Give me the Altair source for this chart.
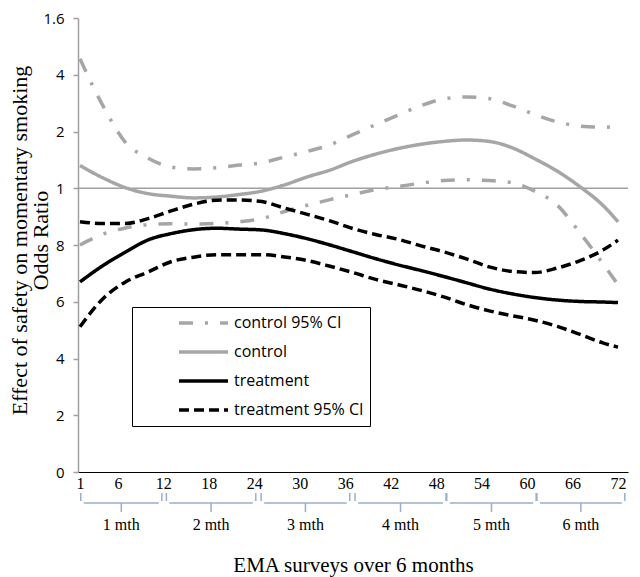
import json
import altair as alt
import pandas as pd

# ---- data ----
survey = [1, 4, 7, 10, 13, 16, 19, 22, 25, 28, 31, 34, 37, 40, 43, 46, 49, 52, 55, 58, 61, 64, 67, 70, 72]

control_ci_upper = [1.456, 1.292, 1.162, 1.106, 1.075, 1.068, 1.072, 1.082, 1.090, 1.110, 1.130, 1.153,
                    1.189, 1.224, 1.258, 1.291, 1.315, 1.322, 1.316, 1.291, 1.260, 1.234, 1.219, 1.215, 1.217]
control = [1.080, 1.037, 1.002, 0.981, 0.972, 0.966, 0.969, 0.978, 0.990, 1.012, 1.040, 1.064,
           1.095, 1.120, 1.140, 1.155, 1.165, 1.170, 1.165, 1.143, 1.104, 1.060, 1.005, 0.940, 0.882]
control_ci_lower = [0.800, 0.838, 0.860, 0.872, 0.875, 0.874, 0.876, 0.882, 0.893, 0.918, 0.940, 0.960,
                    0.978, 0.995, 1.006, 1.018, 1.027, 1.030, 1.027, 1.020, 0.990, 0.940, 0.842, 0.735, 0.660]
treatment_ci_upper = [0.882, 0.876, 0.876, 0.893, 0.920, 0.944, 0.958, 0.959, 0.953, 0.930, 0.908, 0.885,
                      0.858, 0.837, 0.820, 0.797, 0.776, 0.751, 0.723, 0.707, 0.703, 0.719, 0.745, 0.782, 0.817]
treatment = [0.670, 0.727, 0.775, 0.818, 0.840, 0.854, 0.859, 0.856, 0.853, 0.840, 0.822, 0.800,
             0.776, 0.752, 0.730, 0.710, 0.689, 0.667, 0.645, 0.628, 0.615, 0.606, 0.601, 0.599, 0.597]
treatment_ci_lower = [0.512, 0.610, 0.670, 0.705, 0.741, 0.757, 0.766, 0.766, 0.766, 0.758, 0.745, 0.725,
                      0.703, 0.679, 0.660, 0.640, 0.617, 0.590, 0.568, 0.551, 0.535, 0.513, 0.485, 0.455, 0.440]

series_names = ["control 95% CI", "control", "treatment", "treatment 95% CI"]
series_colors = ["#a6a6a6", "#a6a6a6", "#000000", "#000000"]
series_dash = [[14, 12, 3, 12], [1, 0], [1, 0], [10, 5]]
series_width = [3.5, 3.5, 3, 3]

x_ticks = [1, 6, 12, 18, 24, 30, 36, 42, 48, 54, 60, 66, 72]
y_ticks = [0, 0.2, 0.4, 0.6, 0.8, 1.0, 1.2, 1.4, 1.6]
y_tick_labels = ["0", "2", "4", "6", "8", "1", "2", "4", "1.6"]

month_labels = ["1 mth", "2 mth", "3 mth", "4 mth", "5 mth", "6 mth"]
month_start = [1.1, 12.4, 24.9, 37.3, 49.4, 61.3]
month_end = [11.8, 24.2, 36.6, 49.3, 61.2, 72.9]

reference_or = 1.0

# ---- tables ----
rows = []
for name, line_id, vals in [
    ("control 95% CI", "cu", control_ci_upper),
    ("control", "c", control),
    ("control 95% CI", "cl", control_ci_lower),
    ("treatment 95% CI", "tu", treatment_ci_upper),
    ("treatment", "t", treatment),
    ("treatment 95% CI", "tl", treatment_ci_lower),
]:
    for s, v in zip(survey, vals):
        rows.append({"survey": s, "or": v, "series": name, "line": line_id})
df = pd.DataFrame(rows)

months = pd.DataFrame({
    "label": month_labels,
    "start": month_start,
    "end": month_end,
})
months["mid"] = (months["start"] + months["end"]) / 2
months["hs"] = months["start"] + 0.4
months["he"] = months["end"] - 0.4

serif = "Liberation Serif"
sans = "Open Sans"

x_scale = alt.Scale(domain=[0.736, 73.32], nice=False, zero=False)
y_scale = alt.Scale(domain=[0, 1.6], nice=False, zero=False)

legend = alt.Legend(
    title=None, orient="none", legendX=54, legendY=289,
    fillColor="white", strokeColor="black", padding=6,
    symbolType="stroke", symbolSize=2400, symbolOffset=39, labelOffset=4,
    labelFont=sans, labelFontSize=16, labelColor="black",
    clipHeight=20, rowPadding=9,
)

label_expr = json.dumps(y_tick_labels) + "[round(datum.value * 5)]"

lines = alt.Chart(df).mark_line(interpolate="monotone", strokeCap="butt").encode(
    x=alt.X("survey:Q", scale=x_scale, axis=alt.Axis(
        values=x_ticks, title="EMA surveys over 6 months", grid=False, ticks=False,
        domainColor="black", domainWidth=1, labelFont=serif, labelFontSize=16,
        labelColor="black", labelPadding=3, labelFlush=False,
        titleFont=serif, titleFontSize=21, titleFontWeight="normal", titleColor="black",
        titleY=93, titleBaseline="middle")),
    y=alt.Y("or:Q", scale=y_scale, axis=alt.Axis(
        values=y_ticks, labelExpr=label_expr, grid=False,
        title=["Effect of safety on momentary smoking", "Odds Ratio"],
        domainColor="#a0a0a0", domainWidth=1.5, tickColor="#a0a0a0", tickSize=5, tickWidth=1.5,
        labelFont=sans, labelFontSize=15, labelColor="black", labelPadding=9, labelFlush=False,
        titleFont=serif, titleFontSize=22, titleFontWeight="normal", titleColor="black",
        titleAngle=270, titleBaseline="middle", titleX=-59, titleY=222, titleLineHeight=21)),
    color=alt.Color("series:N", scale=alt.Scale(domain=series_names, range=series_colors), legend=legend),
    strokeDash=alt.StrokeDash("series:N", scale=alt.Scale(domain=series_names, range=series_dash), legend=legend),
    strokeWidth=alt.StrokeWidth("series:N", scale=alt.Scale(domain=series_names, range=series_width), legend=legend),
    detail="line:N",
)

ref = alt.Chart(pd.DataFrame({"y": [reference_or]})).mark_rule(color="#a0a0a0", strokeWidth=1.5).encode(
    y=alt.Y("y:Q", scale=y_scale)
)

brace_color = "#9aaecb"
base = alt.Chart(months)
brace_h = base.mark_rule(color=brace_color, strokeWidth=1.5).encode(
    x=alt.X("hs:Q", scale=x_scale), x2="he:Q", y=alt.value(485))
brace_l = base.mark_rule(color=brace_color, strokeWidth=1.5).encode(
    x=alt.X("start:Q", scale=x_scale), y=alt.value(475), y2=alt.value(483))
brace_r = base.mark_rule(color=brace_color, strokeWidth=1.5).encode(
    x=alt.X("end:Q", scale=x_scale), y=alt.value(475), y2=alt.value(483))
brace_m = base.mark_rule(color=brace_color, strokeWidth=1.5).encode(
    x=alt.X("mid:Q", scale=x_scale), y=alt.value(485), y2=alt.value(494))
month_text = base.mark_text(font=serif, fontSize=16, color="black", baseline="middle").encode(
    x=alt.X("mid:Q", scale=x_scale), y=alt.value(507), text="label:N")

chart = alt.layer(ref, lines, brace_h, brace_l, brace_r, brace_m, month_text).properties(
    width=550, height=454,
    autosize=alt.AutoSizeParams(type="none"),
    padding={"left": 70, "top": 10, "right": 4, "bottom": 105},
).configure_view(strokeWidth=0).resolve_scale(x="shared", y="shared")

chart.save("out.html", embed_options={"renderer": "svg", "actions": False})
